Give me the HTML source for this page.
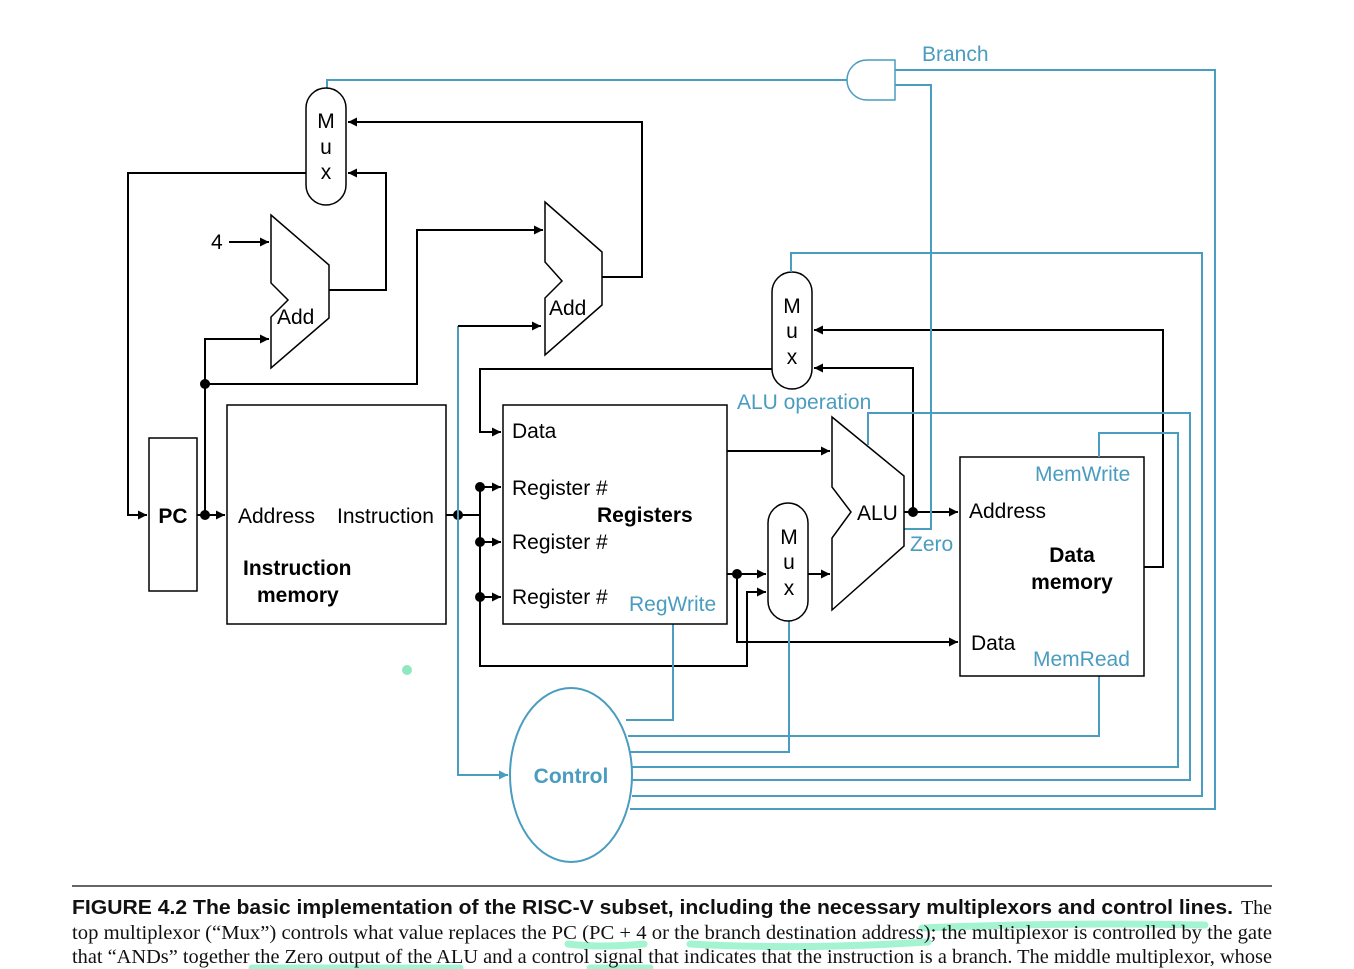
<!DOCTYPE html>
<html><head><meta charset="utf-8"><style>
html,body{margin:0;padding:0;background:#fff;}
svg{display:block;}
</style></head><body>
<svg width="1354" height="969" viewBox="0 0 1354 969" xmlns="http://www.w3.org/2000/svg">
<defs>
<marker id="a" viewBox="0 0 10 10" refX="10" refY="5" markerWidth="11" markerHeight="9" orient="auto" markerUnits="userSpaceOnUse"><path d="M0,0 L10,5 L0,10 z" fill="#000"/></marker>
<marker id="ab" viewBox="0 0 10 10" refX="10" refY="5" markerWidth="11" markerHeight="9" orient="auto" markerUnits="userSpaceOnUse"><path d="M0,0 L10,5 L0,10 z" fill="#4a9cc0"/></marker>
</defs>
<g fill="none" stroke="#000" stroke-width="2">
<path d="M306,173 H128 V515 H147" marker-end="url(#a)"/>
<path d="M197,515 H225" marker-end="url(#a)"/>
<path d="M205,515 V339 H269" marker-end="url(#a)"/>
<path d="M205,384 H417 V230 H543" marker-end="url(#a)"/>
<path d="M229,242 H269" marker-end="url(#a)"/>
<path d="M329,290 H386 V173 H348" marker-end="url(#a)"/>
<path d="M602,277 H642 V122 H348" marker-end="url(#a)"/>
<path d="M446,515 H480"/>
<path d="M480,487 V666 H747 V592 H766" marker-end="url(#a)"/>
<path d="M480,487 H501" marker-end="url(#a)"/>
<path d="M480,542 H501" marker-end="url(#a)"/>
<path d="M480,597 H501" marker-end="url(#a)"/>
<path d="M772,369 H480 V432 H501" marker-end="url(#a)"/>
<path d="M727,451 H830" marker-end="url(#a)"/>
<path d="M727,574 H766" marker-end="url(#a)"/>
<path d="M737,574 V642 H958" marker-end="url(#a)"/>
<path d="M808,574 H830" marker-end="url(#a)"/>
<path d="M904,512 H958" marker-end="url(#a)"/>
<path d="M913,512 V368 H814" marker-end="url(#a)"/>
<path d="M1144,567 H1163 V330 H814" marker-end="url(#a)"/>
</g>
<g fill="#000">
<circle cx="205" cy="515" r="5"/><circle cx="205" cy="384" r="5"/>
<circle cx="458" cy="515" r="5"/>
<circle cx="480" cy="487" r="5"/><circle cx="480" cy="542" r="5"/><circle cx="480" cy="597" r="5"/>
<circle cx="737" cy="574" r="5"/><circle cx="913" cy="512" r="5"/>
</g>
<g fill="none" stroke="#4a9cc0" stroke-width="2">
<path d="M458,515 V775 H508" marker-end="url(#ab)"/>
<path d="M458,515 V326"/>
<path d="M626,720 H673 V624"/>
<path d="M628,736 H1099 V676"/>
<path d="M630,752 H789 V621"/>
<path d="M632,767 H1178 V433 H1099 V457"/>
<path d="M632,780 H1190 V413 H868 V445"/>
<path d="M632,796 H1202 V253 H791 V272"/>
<path d="M630,809 H1215 V70 H895"/>
<path d="M904,529 H931 V85 H895"/>
<path d="M847,80 H327 V88"/>
<ellipse cx="571" cy="775" rx="61" ry="87"/>
</g>
<path d="M895,60 H867 A20,20 0 0 0 867,100 H895 Z" fill="#fff" stroke="#4a9cc0" stroke-width="1.5"/>
<path d="M458,326 H541" stroke="#000" stroke-width="2" fill="none" marker-end="url(#a)"/>
<g fill="#fff" stroke="#000" stroke-width="1.5">
<rect x="149" y="438" width="48" height="153"/>
<rect x="227" y="405" width="219" height="219"/>
<rect x="503" y="405" width="224" height="219"/>
<rect x="960" y="457" width="184" height="219"/>
<rect x="306" y="88" width="40" height="117" rx="20"/>
<rect x="772" y="272" width="40" height="117" rx="20"/>
<rect x="768" y="503" width="40" height="118" rx="20"/>
<polygon points="271,215 329,265 329,318 271,368 271,317 288,300 271,283"/>
<polygon points="545,202 602,252 602,305 545,355 545,298 562,281 545,262"/>
<polygon points="832,417 904,476 904,546 832,610 832,538 851,512 832,487"/>
</g>
<path d="M868,445 V413" stroke="#4a9cc0" stroke-width="2"/>
<path d="M1099,457 V433" stroke="#4a9cc0" stroke-width="2"/>
<path d="M791,272 V253" stroke="#4a9cc0" stroke-width="2"/>
<g font-family="Liberation Sans, sans-serif" font-size="21" fill="#000">
<text x="173" y="523" text-anchor="middle" font-weight="bold">PC</text>
<text x="238" y="523">Address</text><text x="337" y="523">Instruction</text>
<text x="243" y="575" font-weight="bold">Instruction</text>
<text x="257" y="602" font-weight="bold">memory</text>
<text x="512" y="438">Data</text>
<text x="512" y="495">Register #</text>
<text x="597" y="522" font-weight="bold">Registers</text>
<text x="512" y="549">Register #</text>
<text x="512" y="604">Register #</text>
<text x="969" y="518">Address</text>
<text x="1072" y="562" font-weight="bold" text-anchor="middle">Data</text>
<text x="1072" y="589" font-weight="bold" text-anchor="middle">memory</text>
<text x="971" y="650">Data</text>
<text x="857" y="520">ALU</text>
<text x="277" y="324">Add</text><text x="549" y="315">Add</text>
<text x="211" y="249">4</text>
<g text-anchor="middle">
<text x="326" y="128">M</text><text x="326" y="154">u</text><text x="326" y="179">x</text>
<text x="792" y="313">M</text><text x="792" y="338">u</text><text x="792" y="364">x</text>
<text x="789" y="544">M</text><text x="789" y="569">u</text><text x="789" y="595">x</text>
</g>
</g>
<g font-family="Liberation Sans, sans-serif" font-size="21" fill="#4a9cc0">
<text x="922" y="61">Branch</text>
<text x="737" y="409">ALU operation</text>
<text x="1035" y="481">MemWrite</text>
<text x="910" y="551">Zero</text>
<text x="629" y="611">RegWrite</text>
<text x="1033" y="666">MemRead</text>
<text x="571" y="783" text-anchor="middle" font-weight="bold">Control</text>
</g>
<circle cx="407" cy="670" r="5" fill="#8fe8c0"/>
<line x1="72" y1="886" x2="1272" y2="886" stroke="#333" stroke-width="1.5"/>
<g stroke="#7ef0c0" stroke-width="7" stroke-linecap="round" opacity="0.7" fill="none">
<path d="M568,944 Q600,948 644,944"/>
<path d="M690,944 Q800,950 928,942"/>
<path d="M922,928 Q1060,922 1205,925"/>
<path d="M252,968 H460"/><path d="M590,968 H650"/>
</g>
<g font-size="20" fill="#111">
<text x="72" y="914" font-family="Liberation Sans, sans-serif" font-weight="bold" textLength="1161" lengthAdjust="spacingAndGlyphs">FIGURE 4.2   The basic implementation of the RISC-V subset, including the necessary multiplexors and control lines.</text>
<text x="1241" y="914" font-family="Liberation Serif, serif" textLength="31" lengthAdjust="spacingAndGlyphs">The</text>
<text x="72" y="939" font-family="Liberation Serif, serif" textLength="1200" lengthAdjust="spacingAndGlyphs">top multiplexor (“Mux”) controls what value replaces the PC (PC + 4 or the branch destination address); the multiplexor is controlled by the gate</text>
<text x="72" y="963" font-family="Liberation Serif, serif" textLength="1200" lengthAdjust="spacingAndGlyphs">that “ANDs” together the Zero output of the ALU and a control signal that indicates that the instruction is a branch. The middle multiplexor, whose</text>
</g>
</svg>
</body></html>
